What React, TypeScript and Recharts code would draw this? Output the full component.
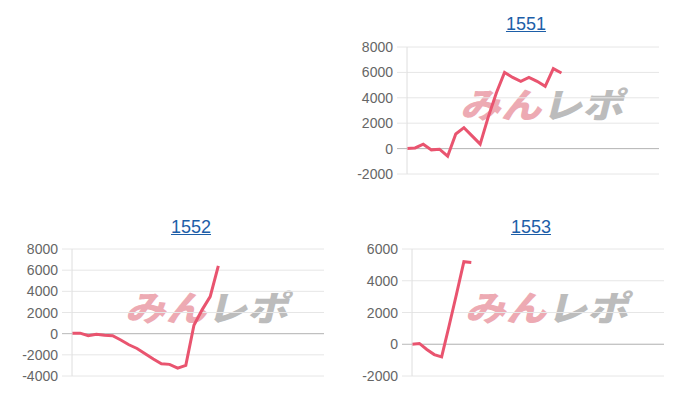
import { LineChart, Line, XAxis, YAxis, CartesianGrid, ReferenceLine } from 'recharts';

// x categories (days), no labels drawn
const days32 = [0, 1, 2, 3, 4, 5, 6, 7, 8, 9, 10, 11, 12, 13, 14, 15, 16, 17, 18, 19, 20, 21, 22, 23, 24, 25, 26, 27, 28, 29, 30, 31];
const days35 = [0, 1, 2, 3, 4, 5, 6, 7, 8, 9, 10, 11, 12, 13, 14, 15, 16, 17, 18, 19, 20, 21, 22, 23, 24, 25, 26, 27, 28, 29, 30, 31, 32, 33, 34];

const series1551 = [0, 50, 350, -100, -50, -600, 1150, 1650, 1000, 350, 2500, 4400, 6000, 5600, 5300, 5600, 5300, 4900, 6300, 5950];
const series1552 = [50, 50, -200, -50, -150, -200, -600, -1050, -1400, -1900, -2400, -2850, -2900, -3250, -3000, 800, 2250, 3500, 6400];
const series1553 = [0, 50, -330, -650, -800, 1150, 3150, 5200, 5150];

const ticks1551 = [-2000, 0, 2000, 4000, 6000, 8000];
const ticks1552 = [-4000, -2000, 0, 2000, 4000, 6000, 8000];
const ticks1553 = [-2000, 0, 2000, 4000, 6000];

const LINE = '#e9546f';
const GRID = '#e6e6e6';
const ZERO = '#b8b8b8';
const FONT = '"Liberation Sans", Arial, sans-serif';

function toRows(labels: number[], values: number[]) {
  return labels.map((d, i) => ({ day: d, value: i < values.length ? values[i] : null }));
}

function YTick(props: any) {
  const { x, y, payload } = props;
  const zero = payload.value === 0;
  return (
    <g>
      <line x1={x - 10} x2={x} y1={y} y2={y} stroke={zero ? ZERO : GRID} />
      <text x={x - 14} y={y} dy={5} textAnchor="end" fill="#666" fontSize={14} fontFamily={FONT}>
        {payload.value}
      </text>
    </g>
  );
}

// watermark logo, drawn behind the chart
function Watermark({ left, top }: { left: number; top: number }) {
  return (
    <svg width={200} height={60} style={{ position: 'absolute', left: left - 10, top: top - 10, overflow: 'visible' }}>
      <g transform="translate(12,44) skewX(-14)">
        <text x={0} y={0} fontSize={35} fontWeight={900} fontFamily='"Noto Sans CJK JP", sans-serif' textLength={163} lengthAdjust="spacingAndGlyphs">
          <tspan fill="#edaab3">みん</tspan>
          <tspan fill="#bcbcbc">レポ</tspan>
        </text>
      </g>
    </svg>
  );
}

interface PanelProps {
  title: string;
  titleX: number;
  titleTop: number;
  left: number;
  top: number;
  width: number;
  height: number;
  margin: { top: number; right: number; bottom: number; left: number };
  yWidth: number;
  labels: number[];
  values: number[];
  ticks: number[];
  mark: { left: number; top: number };
}

function Panel(p: PanelProps) {
  const data = toRows(p.labels, p.values);
  return (
    <>
      <div
        style={{
          position: 'absolute',
          left: p.titleX - 50,
          top: p.titleTop,
          width: 100,
          textAlign: 'center',
          fontFamily: FONT,
          fontSize: 18,
          lineHeight: '18px',
          color: '#1d5ea8',
          textDecoration: 'underline',
        }}
      >
        {p.title}
      </div>
      <Watermark left={p.mark.left} top={p.mark.top} />
      <div style={{ position: 'absolute', left: p.left, top: p.top }}>
        <LineChart width={p.width} height={p.height} data={data} margin={p.margin}>
          <CartesianGrid vertical={false} stroke={GRID} />
          <XAxis dataKey="day" hide />
          <YAxis
            width={p.yWidth}
            domain={[p.ticks[0], p.ticks[p.ticks.length - 1]]}
            ticks={p.ticks}
            interval={0}
            axisLine={{ stroke: '#dedede' }}
            tickLine={false}
            tickSize={0}
            tickMargin={0}
            tick={<YTick />}
          />
          <ReferenceLine y={0} stroke={ZERO} />
          <Line
            type="linear"
            dataKey="value"
            stroke={LINE}
            strokeWidth={3}
            dot={false}
            activeDot={false}
            isAnimationActive={false}
          />
        </LineChart>
      </div>
    </>
  );
}

export default function App() {
  return (
    <div style={{ position: 'absolute', left: 0, top: 0, width: 700, height: 400, background: '#fff' }}>
      <Panel
        title="1551"
        titleX={526}
        titleTop={15}
        left={340}
        top={30}
        width={330}
        height={160}
        margin={{ top: 17, right: 11, bottom: 16, left: 0 }}
        yWidth={67}
        labels={days32}
        values={series1551}
        ticks={ticks1551}
        mark={{ left: 458, top: 84 }}
      />
      <Panel
        title="1552"
        titleX={191}
        titleTop={218}
        left={0}
        top={235}
        width={340}
        height={160}
        margin={{ top: 14, right: 16, bottom: 19, left: 0 }}
        yWidth={72}
        labels={days32}
        values={series1552}
        ticks={ticks1552}
        mark={{ left: 123, top: 287 }}
      />
      <Panel
        title="1553"
        titleX={531}
        titleTop={218}
        left={340}
        top={235}
        width={340}
        height={160}
        margin={{ top: 14, right: 16, bottom: 19, left: 0 }}
        yWidth={72}
        labels={days35}
        values={series1553}
        ticks={ticks1553}
        mark={{ left: 463, top: 287 }}
      />
    </div>
  );
}
